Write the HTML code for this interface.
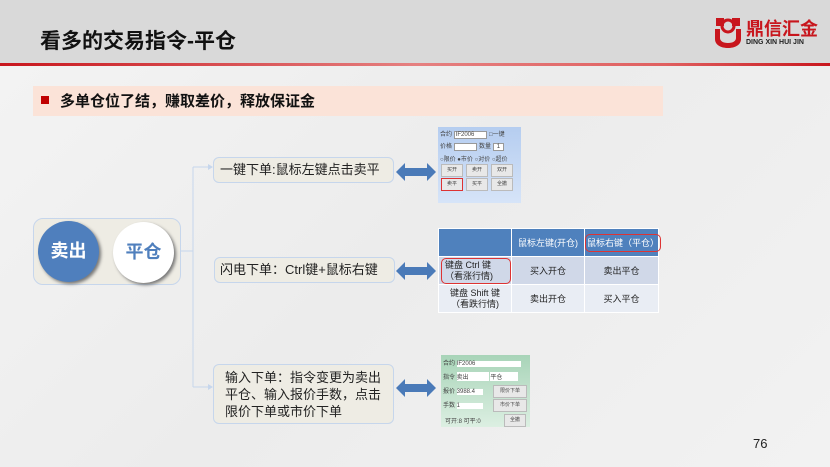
<!DOCTYPE html>
<html><head><meta charset="utf-8"><style>
*{margin:0;padding:0;box-sizing:border-box}
body{width:830px;height:467px;position:relative;overflow:hidden;background:linear-gradient(135deg,#f4f4f4,#ececec 50%,#f2f2f2);font-family:"Liberation Sans","Noto Sans CJK SC",sans-serif;color:#222}
.a{position:absolute}
.box{position:absolute;background:#eeece4;border:1px solid #c6d6ec;border-radius:6px;font-size:13px;color:#222}
td{border:1px solid #fff;text-align:center;font-size:9px;color:#222}
.scr{font-size:6px;color:#444}
.btn{position:absolute;background:#e8e8e8;border:1px solid #bbb;font-size:5px;text-align:center;line-height:11px;width:22px;height:13px}
</style></head><body>
<div class="a" style="left:0;top:0;width:830px;height:64px;background:#d9d9d9"></div>
<div class="a" style="left:0;top:63px;width:830px;height:3px;background:linear-gradient(90deg,#c8161d,#e58080 50%,#e06060 80%,#c8161d)"></div>
<div class="a" style="left:40px;top:25px;font-size:21px;font-weight:bold;color:#111">看多的交易指令-平仓</div>
<svg class="a" style="left:713px;top:15px" width="30" height="34" viewBox="0 0 30 34"><path d="M3 3h8v8H3zM19 3h8v8h-8z" fill="#c8161d"/><circle cx="15" cy="11" r="6" fill="none" stroke="#c8161d" stroke-width="3"/><path d="M2 14v10c0 6 6 9 13 9s13-3 13-9V14h-5v9c0 3-3 5-8 5s-8-2-8-5v-9z" fill="#c8161d"/></svg>
<div class="a" style="left:746px;top:15px;font-size:18px;font-weight:bold;color:#c8161d">鼎信汇金</div>
<div class="a" style="left:746px;top:39px;font-size:7px;font-weight:bold;color:#222">DING XIN HUI JIN</div>
<div class="a" style="left:33px;top:86px;width:630px;height:30px;background:#fbe3d8"></div>
<div class="a" style="left:41px;top:96px;width:8px;height:8px;background:#c00000"></div>
<div class="a" style="left:60px;top:90px;font-size:15px;font-weight:bold;color:#111">多单仓位了结，赚取差价，释放保证金</div>

<div class="box" style="left:33px;top:218px;width:148px;height:67px;border-radius:10px"></div>
<div class="a" style="left:38px;top:221px;width:61px;height:61px;border-radius:50%;background:#4f7fbd;box-shadow:2px 2px 3px #777;color:#fff;font-size:18px;font-weight:bold;text-align:center;line-height:61px">卖出</div>
<div class="a" style="left:113px;top:222px;width:61px;height:61px;border-radius:50%;background:#fff;box-shadow:2px 2px 3px #777;color:#4f7fbd;font-size:18px;font-weight:bold;text-align:center;line-height:61px">平仓</div>
<svg class="a" style="left:0;top:0" width="830" height="467"><g stroke="#c6d6ec" stroke-width="1" fill="none"><path d="M181 251H193M193 167V387M193 167H210M193 387H210"/></g><path d="M208 164l5 3-5 3zM208 384l5 3-5 3z" fill="#c6d6ec"/></svg>
<div class="box" style="left:213px;top:157px;width:181px;height:26px;line-height:24px;padding-left:6px">一键下单:鼠标左键点击卖平</div>
<div class="box" style="left:214px;top:257px;width:181px;height:26px;line-height:24px;padding-left:5px">闪电下单：Ctrl键+鼠标右键</div>
<div class="box" style="left:213px;top:364px;width:181px;height:60px;padding:4px 0 0 11px;line-height:17px">输入下单：指令变更为卖出平仓、输入报价手数，点击限价下单或市价下单</div>

<svg class="a" style="left:396px;top:162px" width="40" height="20"><path d="M0 10L9 1V6H31V1L40 10L31 19V14H9V19Z" fill="#4a7ab8"/></svg>
<svg class="a" style="left:396px;top:261px" width="40" height="20"><path d="M0 10L9 1V6H31V1L40 10L31 19V14H9V19Z" fill="#4a7ab8"/></svg>
<svg class="a" style="left:396px;top:378px" width="40" height="20"><path d="M0 10L9 1V6H31V1L40 10L31 19V14H9V19Z" fill="#4a7ab8"/></svg>

<div class="a scr" style="left:438px;top:127px;width:83px;height:76px;background:linear-gradient(#b5cdf0,#d6e4f8)">
<div class="a" style="left:2px;top:2px">合约 <span style="background:#fff;border:1px solid #999;padding:0 12px 0 1px">IF2006</span> □一键</div>
<div class="a" style="left:2px;top:14px">价格 <span style="background:#fff;border:1px solid #999;padding:0 10px">&nbsp;</span> 数量 <span style="background:#fff;border:1px solid #999;padding:0 3px">1</span></div>
<div class="a" style="left:2px;top:27px">○限价 ●市价 ○对价 ○超价</div>
<div class="btn" style="left:3px;top:37px">买开</div><div class="btn" style="left:28px;top:37px">卖开</div><div class="btn" style="left:53px;top:37px">双开</div>
<div class="btn" style="left:3px;top:51px;border:1.5px solid #d33">卖平</div><div class="btn" style="left:28px;top:51px">买平</div><div class="btn" style="left:53px;top:51px">全撤</div>
</div>

<table class="a" style="left:438px;top:228px;width:220px;height:85px;border-collapse:collapse;table-layout:fixed">
<colgroup><col style="width:73px"><col style="width:73px"><col style="width:74px"></colgroup>
<tr style="height:28px;background:#4f81bd"><td></td><td style="color:#fff">鼠标左键(开仓)</td><td style="color:#fff"><span style="border:1px solid #d33;border-radius:5px;padding:3px 1px;white-space:nowrap">鼠标右键（平仓）</span></td></tr>
<tr style="height:28px;background:#d0d8e8"><td style="text-align:left;padding-left:2px"><div style="border:1px solid #d33;border-radius:5px;padding:1px 3px;line-height:11px">键盘 Ctrl 键<br>（看涨行情)</div></td><td>买入开仓</td><td>卖出平仓</td></tr>
<tr style="height:28px;background:#e9edf4"><td style="line-height:11px">键盘 Shift 键<br>（看跌行情)</td><td>卖出开仓</td><td>买入平仓</td></tr>
</table>

<div class="a scr" style="left:441px;top:355px;width:89px;height:72px;background:linear-gradient(#a8d4b8,#dcefe2)">
<div class="a" style="left:2px;top:3px">合约 <span style="background:#fff;display:inline-block;width:64px">IF2006</span></div>
<div class="a" style="left:2px;top:17px">指令 <span style="background:#fff;display:inline-block;width:32px">卖出</span> <span style="background:#fff;display:inline-block;width:28px">平仓</span></div>
<div class="a" style="left:2px;top:31px">报价 <span style="background:#fff;display:inline-block;width:26px">3988.4</span></div>
<div class="a" style="left:2px;top:45px">手数 <span style="background:#fff;display:inline-block;width:26px">1</span></div>
<div class="btn" style="left:52px;top:30px;width:34px">限价下单</div><div class="btn" style="left:52px;top:44px;width:34px">市价下单</div>
<div class="a" style="left:4px;top:61px">可开:8 可平:0</div><div class="btn" style="left:63px;top:59px;width:22px">全撤</div>
</div>

<div class="a" style="left:753px;top:436px;font-size:13px;color:#222">76</div>
</body></html>
